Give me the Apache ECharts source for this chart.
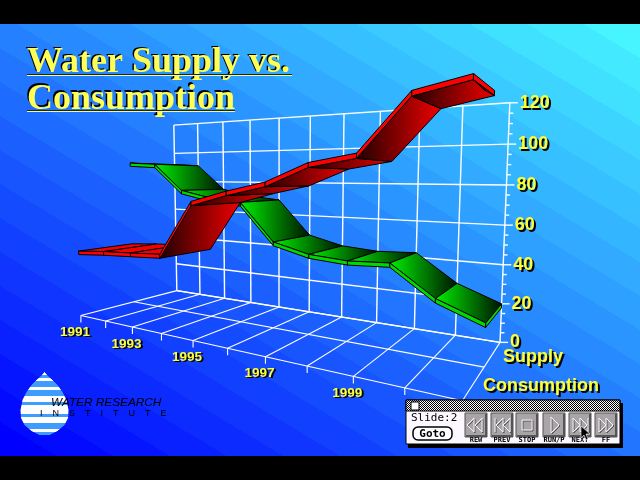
<!DOCTYPE html>
<html><head><meta charset="utf-8">
<script src="https://cdn.jsdelivr.net/npm/echarts@6/dist/echarts.min.js"></script>
<style>html,body{margin:0;padding:0;background:#000}#c{width:640px;height:480px}</style></head>
<body><div id="c"></div>
<script>
// ---- data ----
const years = ['1991','1992','1993','1994','1995','1996','1997','1998','1999','2000','2001'];
const yearLabels = ['1991','1993','1995','1997','1999'];
const valueTicks = [0,20,40,60,80,100,120];
const supply      = [92,91,75,71,69,48,43,41.5,42.5,28,20];
const consumption = [39,40.5,41.5,42.6,71,76.5,81,89.5,93,116,120];
const titleLines = ['Water Supply vs.','Consumption'];
const seriesNames = ['Supply','Consumption'];
const buttonNames = ['REW','PREV','STOP','RUN/P','NEXT','FF'];

// ---- layout ----
const G = {left:177, top:103, width:323, height:240};
// camera calibration: box corners (u, w, v) -> screen
const anchors = [
 [0,0,0,177,290],[5,0,0,309,312],[10,0,0,500,343],
 [0,1,0,81,316],[5,1,0,227,349],[10,1,0,463,399],
 [0,0,120,174,125],[5,0,120,310,116],[10,0,120,510,103]
];
function solveCamera(){
  const A=[],b=[];
  anchors.forEach(a=>{
    const X=(G.left+a[0]/10*G.width)/100, Z=a[1], Y=(G.top+G.height-a[2]/120*G.height)/100, sx=a[3], sy=a[4];
    A.push([X,Y,Z,1,0,0,0,0,-sx*X,-sx*Y,-sx*Z]); b.push(sx);
    A.push([0,0,0,0,X,Y,Z,1,-sy*X,-sy*Y,-sy*Z]); b.push(sy);
  });
  const n=11, N=[];
  for(let i=0;i<n;i++){N.push(new Array(n+1).fill(0));
    for(let j=0;j<n;j++)A.forEach(r=>N[i][j]+=r[i]*r[j]);
    A.forEach((r,k)=>N[i][n]+=r[i]*b[k]);}
  for(let c=0;c<n;c++){let p=c;for(let r=c+1;r<n;r++)if(Math.abs(N[r][c])>Math.abs(N[p][c]))p=r;
    [N[c],N[p]]=[N[p],N[c]];
    for(let r=0;r<n;r++)if(r!==c){const f=N[r][c]/N[c][c];for(let k=c;k<=n;k++)N[r][k]-=f*N[c][k];}}
  return N.map((r,i)=>r[n]/r[i]);
}
const M = solveCamera();
function P(api,u,v,w){
  const c=api.coord([u,v]), X=c[0]/100, Y=c[1]/100;
  const d=M[8]*X+M[9]*Y+M[10]*w+1;
  return [(M[0]*X+M[1]*Y+M[2]*w+M[3])/d,(M[4]*X+M[5]*Y+M[6]*w+M[7])/d];
}
function grad(stops){return new echarts.graphic.LinearGradient(0,0,1,0,stops.map((c,i)=>({offset:i/(stops.length-1),color:c})));}
function poly(pts,fill,z){return {type:'polygon',shape:{points:pts},style:{fill:fill,stroke:'#000',lineWidth:1},z2:z||0};}
function seg(a,b,color,lw){return {type:'line',shape:{x1:a[0],y1:a[1],x2:b[0],y2:b[1]},style:{stroke:color||'#fff',lineWidth:lw||1.4}};}
function txt(x,y,s,font,fill,align,sx,sy){return {type:'text',x:x,y:y,style:{text:s,font:font,fill:fill,align:align||'left',verticalAlign:'middle',
   textShadowColor:'#000',textShadowBlur:0.01,textShadowOffsetX:sx,textShadowOffsetY:sy}};}

// ---- ribbons ----
const THICK=2.1;
function ribbon(values,w0,w1,cfg){
  return {type:'custom',name:cfg.name,coordinateSystem:'cartesian2d',clip:false,silent:true,animation:false,z:cfg.z,
    encode:{x:0,y:1},
    data:values.slice(0,-1).map((v,i)=>[i,v,values[i+1]]),
    renderItem(params,api){
      const i=api.value(0), a=api.value(1), b=api.value(2);
      const nl=P(api,i,a,w1), nr=P(api,i+1,b,w1), fr=P(api,i+1,b,w0), fl=P(api,i,a,w0);
      const nl2=P(api,i,a-THICK,w1), nr2=P(api,i+1,b-THICK,w1), fr2=P(api,i+1,b-THICK,w0), fl2=P(api,i,a-THICK,w0);
      const q=[nl,nr,fr,fl];let area=0;
      q.forEach((p,k)=>{const n=q[(k+1)%4];area+=p[0]*n[1]-n[0]*p[1];});
      const kids=[];
      if(area<0) kids.push(poly(q,cfg.top));
      else kids.push(poly([nl2,nr2,fr2,fl2],cfg.under));
      kids.push(poly([nl,nr,nr2,nl2],cfg.rim));
      if(i===values.length-2){
        kids.push(poly([nr,fr,fr2,nr2],cfg.rim));
        if(cfg.tip){const t=b+(a-b)*0.2;
          kids.push(poly([nr2,fr2,P(api,i+0.8,t-THICK,(w0+w1)/2+0.02)],cfg.tip));}
      }
      return {type:'group',children:kids};
    }};
}
// ---- walls, floor, ticks and axis text ----
const frameSeries={type:'custom',coordinateSystem:'cartesian2d',clip:false,silent:true,animation:false,z:1,encode:{x:0,y:1},data:[[0,0]],
  renderItem(params,api){
    const kids=[], last=years.length-1;
    valueTicks.forEach(v=>{kids.push(seg(P(api,0,v,0),P(api,last,v,0)));
      const e=P(api,last,v,0);kids.push(seg(e,[e[0]+8,e[1]]));
      kids.push(txt(e[0]+10,e[1],String(v),'bold 18px "Liberation Sans"','#ffff33','left',2,2));});
    for(let v=0;v<120;v+=5){if(v%20){const e=P(api,last,v,0);kids.push(seg(e,[e[0]+4,e[1]]));}}
    years.forEach((y,i)=>{
      kids.push(seg(P(api,i,0,0),P(api,i,120,0)));
      const f=P(api,i,0,1);
      kids.push(seg(P(api,i,0,0),f,'#fff',1.1));
      kids.push(seg(f,[f[0],f[1]+7],'#fff',1.1));
      if(yearLabels.indexOf(y)>=0) kids.push(txt(f[0]-6,f[1]+17,y,'bold 13.5px "Liberation Sans"','#ffff33','center',2,1));
    });
    [0,0.5,1].forEach(w=>kids.push(seg(P(api,0,0,w),P(api,w?last+0.22:last,0,w),'#fff',1.1)));
    return {type:'group',children:kids};
  }};

// ---- banded backdrop ----
const bandStops=[];const BANDS=24;
for(let i=0;i<BANDS;i++){const t=i/(BANDS-1);
  const c='rgb('+Math.round(70*t)+','+Math.round(245*t)+',255)';
  bandStops.push({offset:i/BANDS,color:c},{offset:(i+1)/BANDS,color:c});}

// ---- decoration: logo drop ----
const dropW=[[372,0],[376,3.5],[380,8],[385,13],[392,18],[400,22],[410,24],[418,23.5],[425,20],[431,13],[435,5]];
const dropBlue=[0,1,0,1,1,0,1,1,0,0,1,0,0,0,1,0,0,1,1,0,1];
function hw(y){for(let i=1;i<dropW.length;i++){if(y<=dropW[i][0]){const a=dropW[i-1],b=dropW[i];return a[1]+(b[1]-a[1])*(y-a[0])/(b[0]-a[0]);}}return 0;}
const logo=[];
for(let y=372;y<435;y++){const b=dropBlue[Math.floor((y-372)/3)],h=hw(y+.5);
  logo.push({type:'rect',shape:{x:44.5-h,y:y,width:2*h,height:1},style:{fill:b?'#3f9cff':'#fdfdff'},z:5});}
// ---- playback panel ----
function stipple(){const c=document.createElement('canvas');c.width=2;c.height=2;const x=c.getContext('2d');
  x.fillStyle='#fff';x.fillRect(0,0,2,2);x.fillStyle='#000';x.fillRect(0,0,1,1);x.fillRect(1,1,1,1);return c;}
const PZ=50, panel=[
 {type:'rect',shape:{x:408,y:403,width:215,height:45},style:{fill:'#000'},z:PZ},
 {type:'rect',shape:{x:406,y:400,width:214,height:44},style:{fill:'#fdf8ff',stroke:'#000',lineWidth:1},z:PZ},
 {type:'rect',shape:{x:406,y:400,width:214,height:11},style:{fill:{image:stipple(),repeat:'repeat'},stroke:'#000',lineWidth:1},z:PZ},
 {type:'rect',shape:{x:411,y:402,width:8,height:8},style:{fill:'#fff',stroke:'#000',lineWidth:1},z:PZ+1},
 {type:'text',x:411,y:418,style:{text:'Slide:2',font:'11px "DejaVu Sans Mono"',fill:'#000',verticalAlign:'middle'},z:PZ+1},
 {type:'rect',shape:{x:413,y:427,width:39,height:13,r:5},style:{fill:'#fff',stroke:'#000',lineWidth:1.5},z:PZ+1},
 {type:'text',x:432.5,y:434,style:{text:'Goto',font:'bold 11px "DejaVu Sans Mono"',fill:'#000',align:'center',verticalAlign:'middle'},z:PZ+1}
];
const btnX=[476,502,527,554,580,606];
const glyphs=[
 [[[-2,-7],[-9,0],[-2,7],[-2,-7]],[[6,-7],[-1,0],[6,7],[6,-7]]],
 [[[-7,-7],[-7,7]],[[1,-7],[-6,0],[1,7],[1,-7]],[[8,-7],[1,0],[8,7],[8,-7]]],
 [[[-5,-5],[5,-5],[5,5],[-5,5],[-5,-5]]],
 [[[-3,-8],[5,0],[-3,8],[-3,-8]]],
 [[[-7,-7],[0,0],[-7,7],[-7,-7]],[[0,-7],[7,0],[0,7],[0,-7]],[[8,-7],[8,7]]],
 [[[-7,-7],[0,0],[-7,7],[-7,-7]],[[0,-7],[7,0],[0,7],[0,-7]]]
];
buttonNames.forEach((n,i)=>{const x=btnX[i];
  panel.push({type:'rect',shape:{x:x-11,y:413,width:22,height:24},style:{fill:'#a8a4a8',stroke:'#555',lineWidth:1},z:PZ+1});
  panel.push({type:'polyline',shape:{points:[[x-10,436],[x+10,436],[x+10,414]]},style:{stroke:'#555',lineWidth:2,fill:null},z:PZ+2});
  glyphs[i].forEach(g=>{
    panel.push({type:'polyline',shape:{points:g.map(p=>[x+p[0]+1,425+p[1]+1])},style:{stroke:'#555',lineWidth:1,fill:null},z:PZ+2});
    panel.push({type:'polyline',shape:{points:g.map(p=>[x+p[0],425+p[1]])},style:{stroke:'#f4f4f4',lineWidth:1,fill:null},z:PZ+2});
  });
  panel.push({type:'text',x:x,y:440.5,style:{text:n,font:'bold 7px "DejaVu Sans Mono"',fill:'#000',align:'center',verticalAlign:'middle'},z:PZ+2});
});
panel.push({type:'polygon',shape:{points:[[581,426],[581,438],[584,435],[586,440],[588,439],[586,434],[590,434]]},style:{fill:'#000',stroke:'#fff',lineWidth:.6},z:PZ+3});

const TITLE_FONT='bold 36px "Liberation Serif"';
const chart=echarts.init(document.getElementById('c'),null,{renderer:'canvas',width:640,height:480});
chart.setOption({
  animation:false,
  backgroundColor:'#000',
  grid:{left:G.left,top:G.top,width:G.width,height:G.height,containLabel:false},
  xAxis:{type:'category',data:years,boundaryGap:false,show:false},
  yAxis:{type:'value',min:0,max:120,interval:20,show:false},
  series:[
    frameSeries,
    ribbon(supply,0,0.5,{name:seriesNames[0],z:3,top:grad(['#00f000','#001000']),under:grad(['#00f000','#001000']),rim:'#00d800'}),
    ribbon(consumption,0.5,1,{name:seriesNames[1],z:4,top:'#f40000',under:grad(['#200000','#f00000']),rim:'#ff0000',tip:grad(['#200000','#a00000'])})
  ],
  graphic:[
    {type:'rect',shape:{x:0,y:24,width:640,height:432},style:{fill:new echarts.graphic.LinearGradient(0,456,360,-144,bandStops,true)},z:-10},
    {type:'text',x:27,y:63,style:{text:titleLines[0],font:TITLE_FONT,fill:'#ffff55',verticalAlign:'middle',textShadowColor:'#000',textShadowBlur:0.01,textShadowOffsetX:-1.5,textShadowOffsetY:-1.5},z:5},
    {type:'text',x:27,y:99.5,style:{text:titleLines[1],font:TITLE_FONT,fill:'#ffff55',verticalAlign:'middle',textShadowColor:'#000',textShadowBlur:0.01,textShadowOffsetX:-1.5,textShadowOffsetY:-1.5},z:5},
    {type:'rect',shape:{x:27,y:74,width:265,height:1},style:{fill:'#102060'},z:5},
    {type:'rect',shape:{x:27,y:75,width:265,height:1},style:{fill:'#ffff55'},z:5},
    {type:'rect',shape:{x:27,y:110,width:208,height:1},style:{fill:'#102060'},z:5},
    {type:'rect',shape:{x:27,y:111,width:208,height:1},style:{fill:'#ffff55'},z:5},
    {type:'text',x:503,y:357,style:{text:seriesNames[0],font:'bold 18px "Liberation Sans"',fill:'#ffff33',verticalAlign:'middle',textShadowColor:'#000',textShadowBlur:0.01,textShadowOffsetX:2,textShadowOffsetY:2},z:40},
    {type:'text',x:483,y:386,style:{text:seriesNames[1],font:'bold 18px "Liberation Sans"',fill:'#ffff33',verticalAlign:'middle',textShadowColor:'#000',textShadowBlur:0.01,textShadowOffsetX:2,textShadowOffsetY:2},z:40},
    ...logo,
    {type:'text',x:51,y:403,style:{text:'WATER RESEARCH',font:'italic 11.8px "Liberation Sans"',fill:'#000',verticalAlign:'middle'},z:6},
    {type:'text',x:40,y:414,style:{text:'I    N    S    T    I    T    U    T    E',font:'9px "Liberation Sans"',fill:'#000',verticalAlign:'middle'},z:6},
    ...panel
  ]
});
</script></body></html>
